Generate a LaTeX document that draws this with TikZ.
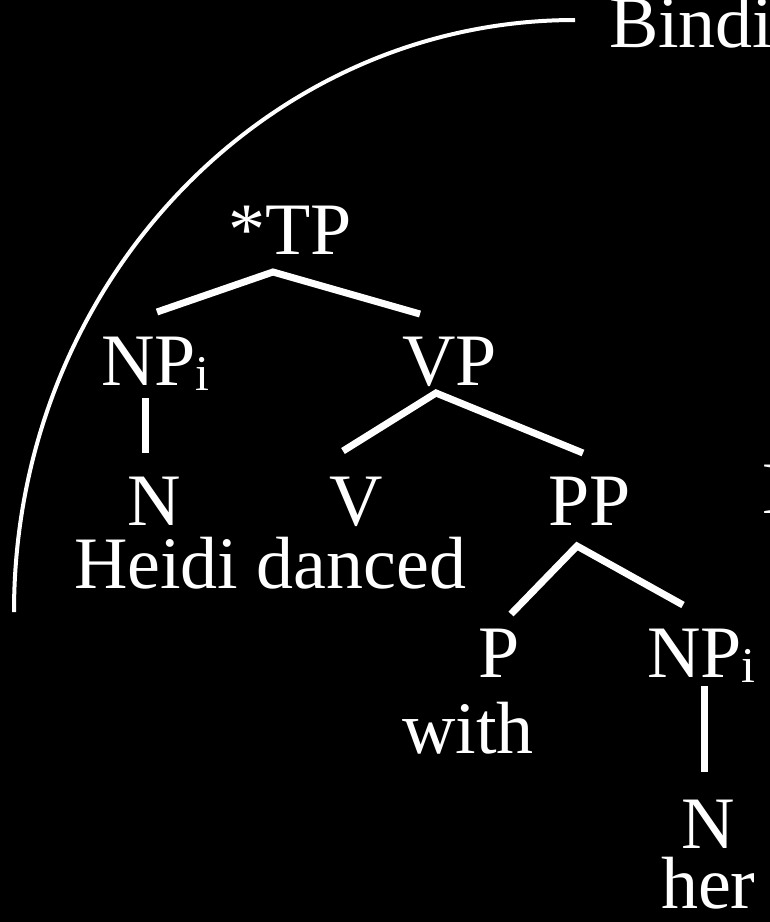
\documentclass[tikz,border=0pt]{standalone}
\usepackage{fontspec}
\setmainfont{Liberation Serif}
\newcommand{\subi}{\raisebox{-5pt}{\fontsize{50}{50}\selectfont i}}
\begin{document}
\begin{tikzpicture}[x=1pt,y=-1pt,
  lbl/.style={anchor=base west,inner sep=0pt,outer sep=0pt,text=white,font=\fontsize{74}{74}\selectfont},
  branch/.style={draw=white,line width=7pt},
  bracket/.style={draw=white,line width=4pt}]
\useasboundingbox (0,0) rectangle (770,922);
\fill[black] (0,0) rectangle (770,922);
\clip (0,0) rectangle (770,922);

% labels
\node[lbl] (bindi) at (609,47) {Bindi};
\node[lbl] (cutn) at (762,513) {N};
\node[lbl] (tp) at (228,254) {*TP};
\node[lbl] (np1) at (101,385) {NP\subi};
\node[lbl] (vp) at (402,385) {VP};
\node[lbl] (n1) at (127,525) {N};
\node[lbl] (v) at (329,525) {V};
\node[lbl] (pp) at (548,525) {PP};
\node[lbl] (heidi) at (74,588) {Heidi danced};
\node[lbl] (p) at (478,677) {P};
\node[lbl] (np2) at (647,677) {NP\subi};
\node[lbl] (with) at (402,753) {with};
\node[lbl] (n2) at (681,848) {N};
\node[lbl] (her) at (661,908) {her};

% branch points
\coordinate (tpA) at (273,272);
\coordinate (tpL) at (157,312);
\coordinate (tpR) at (420,314);
\coordinate (vpA) at (436,393);
\coordinate (vpL) at (343,451);
\coordinate (vpR) at (583,453);
\coordinate (ppA) at (577,546);
\coordinate (ppL) at (511,614);
\coordinate (ppR) at (683,605);
\coordinate (np1T) at (145,398);
\coordinate (np1B) at (145,453);
\coordinate (np2T) at (704,686);
\coordinate (np2B) at (704,772);

\draw[branch] (tpL) -- (tpA) -- (tpR);
\draw[branch] (vpL) -- (vpA) -- (vpR);
\draw[branch] (ppL) -- (ppA) -- (ppR);
\draw[branch] (np1T) -- (np1B);
\draw[branch] (np2T) -- (np2B);

% bracket arc
\coordinate (arcS) at (575,20);
\draw[bracket] (arcS) arc[start angle=270,end angle=180,x radius=561,y radius=592] coordinate (arcE);
\end{tikzpicture}
\end{document}
